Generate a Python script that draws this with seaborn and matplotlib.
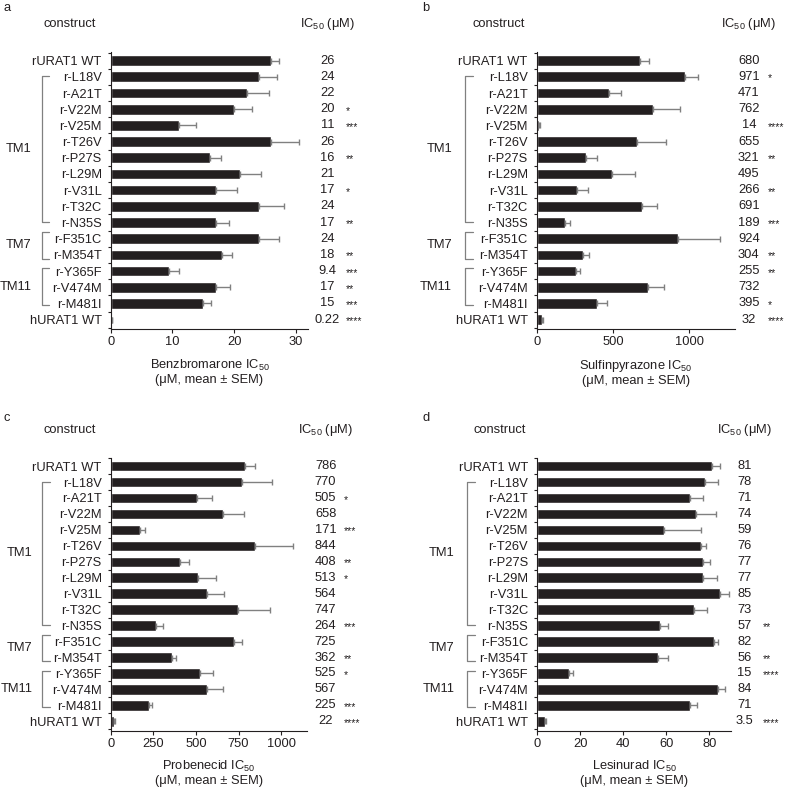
import numpy as np
import matplotlib
matplotlib.use("Agg")
import matplotlib.pyplot as plt
import matplotlib.transforms as mtransforms
import seaborn as sns

# constructs (same for all 4 panels)
constructs = ["rURAT1 WT", "r-L18V", "r-A21T", "r-V22M", "r-V25M", "r-T26V",
              "r-P27S", "r-L29M", "r-V31L", "r-T32C", "r-N35S", "r-F351C",
              "r-M354T", "r-Y365F", "r-V474M", "r-M481I", "hURAT1 WT"]

# groups: name, first row, last row
group_names = ["TM1", "TM7", "TM11"]
group_rows = [(1, 10), (11, 12), (13, 15)]

# benzbromarone
benz_ic50 = [26, 24, 22, 20, 11, 26, 16, 21, 17, 24, 17, 24, 18, 9.4, 17, 15, 0.22]
benz_sem = [1.3, 3.0, 3.6, 2.8, 2.8, 4.5, 1.8, 3.4, 3.4, 4.0, 2.2, 3.3, 1.7, 1.7, 2.3, 1.2, 0.05]
benz_sig = ["", "", "", "*", "***", "", "**", "", "*", "", "**", "", "**", "***", "**", "***", "****"]

# sulfinpyrazone
sulf_ic50 = [680, 971, 471, 762, 14, 655, 321, 495, 266, 691, 189, 924, 304, 255, 732, 395, 32]
sulf_sem = [55, 87, 83, 178, 5, 190, 75, 152, 70, 100, 32, 276, 40, 30, 104, 67, 8]
sulf_sig = ["", "*", "", "", "****", "", "**", "", "**", "", "***", "", "**", "**", "", "*", "****"]

# probenecid
prob_ic50 = [786, 770, 505, 658, 171, 844, 408, 513, 564, 747, 264, 725, 362, 525, 567, 225, 22]
prob_sem = [58, 175, 90, 125, 28, 228, 51, 105, 99, 187, 41, 45, 20, 75, 92, 16, 5]
prob_sig = ["", "", "*", "", "***", "", "**", "*", "", "", "***", "", "**", "*", "", "***", "****"]

# lesinurad
lesi_ic50 = [81, 78, 71, 74, 59, 76, 77, 77, 85, 73, 57, 82, 56, 15, 84, 71, 3.5]
lesi_sem = [4, 6, 6, 9, 17, 2.3, 3.1, 6.5, 4.3, 6, 3.6, 1.8, 5, 1.5, 3.1, 3.1, 0.5]
lesi_sig = ["", "", "", "", "", "", "", "", "", "", "**", "", "**", "****", "", "", "****"]

drugs = ["Benzbromarone", "Sulfinpyrazone", "Probenecid", "Lesinurad"]

sns.set_style("ticks")
plt.rcParams["font.family"] = ["Liberation Sans", "DejaVu Sans"]
plt.rcParams["mathtext.fontset"] = "custom"
plt.rcParams["mathtext.rm"] = "Liberation Sans"
plt.rcParams["mathtext.it"] = "Liberation Sans:italic"

ink = "#231f20"
grey = "#808080"
fs = 9.3

fig = plt.figure(figsize=(7.87, 7.89), dpi=100)

panels = [
    (benz_ic50, benz_sem, benz_sig, [0, 10, 20, 30], 32),
    (sulf_ic50, sulf_sem, sulf_sig, [0, 500, 1000], 1300),
    (prob_ic50, prob_sem, prob_sig, [0, 250, 500, 750, 1000], 1150),
    (lesi_ic50, lesi_sem, lesi_sig, [0, 20, 40, 60, 80], 90),
]
axes_rects = [
    [0.1407, 0.5830, 0.2511, 0.3510],
    [0.6819, 0.5830, 0.2520, 0.3510],
    [0.1407, 0.0740, 0.2491, 0.3460],
    [0.6823, 0.0740, 0.2465, 0.3460],
]
# column positions (axes fraction) for number / stars, differing a bit left vs right
num_x = [1.096, 1.07, 1.096, 1.07]
star_x = [1.19, 1.163, 1.19, 1.163]
brk_x = [-0.349, -0.362, -0.349, -0.362]
brk_tick = [-0.312, -0.32, -0.312, -0.32]
tm_x = [-0.40, -0.426, -0.40, -0.426]

for i, (vals, sem, sig, ticks, xmax) in enumerate(panels):
    ax = fig.add_axes(axes_rects[i])
    sns.barplot(x=vals, y=constructs, orient="h", color=ink, saturation=1,
                width=0.66, ax=ax)
    ax.errorbar(vals, np.arange(len(vals)), xerr=[np.zeros(len(vals)), sem],
                fmt="none", ecolor=grey, elinewidth=1, capsize=2.2, capthick=1)
    ax.set_xlim(0, xmax)
    ax.set_ylim(16.58, -0.53)
    ax.set_xticks(ticks)
    # tiny ticks between the rows
    ax.set_yticks(np.arange(len(constructs) + 1) - 0.5, minor=True)
    ax.tick_params(axis="y", which="minor", length=2, width=0.8, color=ink)
    ax.tick_params(axis="y", which="major", length=0, pad=6.5, labelsize=fs, colors=ink)
    ax.tick_params(axis="x", length=3, pad=2, labelsize=fs, colors=ink)
    sns.despine(ax=ax)
    for s in ["left", "bottom"]:
        ax.spines[s].set_color(ink)
        ax.spines[s].set_linewidth(0.8)
    ax.set_ylabel("")
    ax.set_xlabel(drugs[i] + " IC$_{50}$\n(μM, mean ± SEM)", fontsize=fs,
                  color=ink, labelpad=7, linespacing=1.1)

    tr = mtransforms.blended_transform_factory(ax.transAxes, ax.transData)
    for j, v in enumerate(vals):
        ax.text(num_x[i], j, f"{v:g}", transform=tr, ha="center", va="center",
                fontsize=fs, color=ink, clip_on=False)
        if sig[j]:
            ax.text(star_x[i], j + 0.1, sig[j], transform=tr, ha="left",
                    va="center", fontsize=7.5, color=ink, clip_on=False)

    # brackets for transmembrane groups
    offsets = [(-0.03, -0.02), (-0.4, 0.24), (-0.16, 0.08)]
    for name, (r0, r1), (d0, d1) in zip(group_names, group_rows, offsets):
        y0, y1 = r0 + d0, r1 + d1
        ax.plot([brk_tick[i], brk_x[i], brk_x[i], brk_tick[i]], [y0, y0, y1, y1],
                transform=tr, color=grey, lw=0.9, clip_on=False)
        ax.text(tm_x[i], (y0 + y1) / 2, name, transform=tr, ha="right",
                va="center", fontsize=fs, color=ink)

    # headers
    ax.text(-0.21 if i % 2 == 0 else -0.19, 1.1, "construct", transform=ax.transAxes,
            ha="center", va="center", fontsize=fs, color=ink)
    ax.text(num_x[i], 1.1, "IC$_{50}$ (μM)", transform=ax.transAxes,
            ha="center", va="center", fontsize=fs, color=ink)

# panel letters
fig.text(0.004, 0.99, "a", ha="left", va="center", fontsize=fs, color=ink)
fig.text(0.537, 0.99, "b", ha="left", va="center", fontsize=fs, color=ink)
fig.text(0.004, 0.470, "c", ha="left", va="center", fontsize=fs, color=ink)
fig.text(0.537, 0.470, "d", ha="left", va="center", fontsize=fs, color=ink)

fig.savefig("out.png", dpi=100, facecolor="white")
